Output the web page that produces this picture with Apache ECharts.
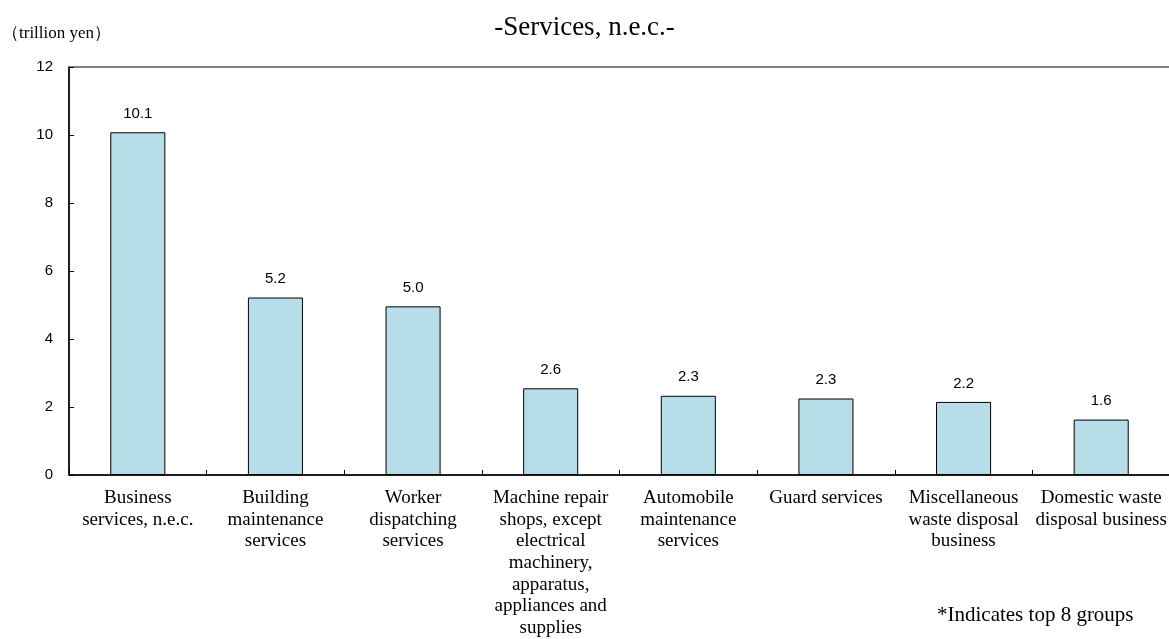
<!DOCTYPE html>
<html><head><meta charset="utf-8">
<script src="https://cdn.jsdelivr.net/npm/echarts@6/dist/echarts.min.js"></script>
<style>html,body{margin:0;padding:0;background:#fff}#c{width:1169px;height:639px}</style>
</head><body><div id="c"></div>
<script>
var categories = [
  "Business\nservices, n.e.c.",
  "Building\nmaintenance\nservices",
  "Worker\ndispatching\nservices",
  "Machine repair\nshops, except\nelectrical\nmachinery,\napparatus,\nappliances and\nsupplies",
  "Automobile\nmaintenance\nservices",
  "Guard services",
  "Miscellaneous\nwaste disposal\nbusiness",
  "Domestic waste\ndisposal business"
];
var values = [10.1, 5.2, 5.0, 2.6, 2.3, 2.3, 2.2, 1.6];
var barHeights = [10.08, 5.22, 4.96, 2.55, 2.33, 2.25, 2.15, 1.63];
var yTicks = [0, 2, 4, 6, 8, 10, 12];
var titleText = "-Services, n.e.c.-";
var unitText = "\uFF08trillion yen\uFF09";
var noteText = "*Indicates top 8 groups";

var chart = echarts.init(document.getElementById('c'));
chart.setOption({
  animation: false,
  backgroundColor: '#fff',
  title: {
    text: titleText, left: 'center', top: 9,
    textStyle: {fontFamily: 'Liberation Serif', fontSize: 27, fontWeight: 'normal', color: '#000'}
  },
  graphic: [
    {type: 'text', left: 2, top: 25, style: {text: unitText, font: '17px "Liberation Serif"', fill: '#000'}},
    {type: 'text', left: 937, top: 605, style: {text: noteText, font: '21px "Liberation Serif"', fill: '#000'}}
  ],
  grid: {left: 69, right: -1, top: 67, bottom: 164, outerBoundsMode: 'none', containLabel: false,
    show: true, borderColor: '#000', borderWidth: 1, backgroundColor: 'transparent'},
  xAxis: {
    type: 'category', data: categories,
    axisLine: {lineStyle: {color: '#000', width: 1.5}},
    axisTick: {show: true, inside: true, length: 5, lineStyle: {color: '#000'}},
    axisLabel: {interval: 0, margin: 12, fontFamily: 'Liberation Serif', fontSize: 19, lineHeight: 21.7, color: '#000', align: 'center'}
  },
  yAxis: {
    type: 'value', min: 0, max: 12, interval: 2,
    axisLine: {show: true, lineStyle: {color: '#000', width: 1.5}},
    axisTick: {show: true, inside: true, length: 5, lineStyle: {color: '#000'}},
    splitLine: {show: false},
    axisLabel: {margin: 16, fontFamily: 'Liberation Sans', fontSize: 15, color: '#000',
      formatter: function(v){ return yTicks.indexOf(v) >= 0 ? String(v) : ''; }}
  },
  series: [{
    type: 'bar', barWidth: '40%',
    data: barHeights,
    itemStyle: {color: '#B7DDE8', borderColor: '#000', borderWidth: 1},
    label: {show: true, position: 'top', distance: 11, fontFamily: 'Liberation Sans', fontSize: 15, color: '#000',
      formatter: function(p){ return values[p.dataIndex].toFixed(1); }}
  }]
});
</script>
</body></html>
